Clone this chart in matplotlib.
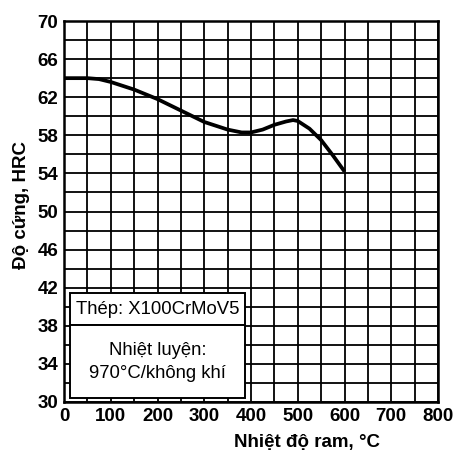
import matplotlib
matplotlib.use("Agg")
import matplotlib.pyplot as plt
from matplotlib.patches import Rectangle
import numpy as np

# tempering temperature (C) vs hardness (HRC)
temp = [0, 50, 75, 100, 150, 200, 250, 300, 350, 380, 400, 425, 450, 475, 490, 500, 525, 550, 575, 600]
hrc = [64.0, 64.0, 63.9, 63.6, 62.8, 61.8, 60.6, 59.4, 58.6, 58.3, 58.3, 58.6, 59.1, 59.45, 59.6, 59.5, 58.7, 57.5, 55.9, 54.2]

x_ticks = list(range(0, 801, 100))
y_ticks = list(range(30, 71, 4))

steel = "Thép: X100CrMoV5"
treatment = "Nhiệt luyện:\n970°C/không khí"

plt.rcParams['font.family'] = ['Liberation Sans', 'DejaVu Sans']

fig = plt.figure(figsize=(4.58, 4.55), dpi=100)
ax = fig.add_axes([64 / 458, 1 - 402 / 455, 374 / 458, 381 / 455])

ax.set_xlim(0, 800)
ax.set_ylim(30, 70)
ax.set_xticks(x_ticks)
ax.set_yticks(y_ticks)
ax.set_xticks(np.arange(0, 801, 50), minor=True)
ax.set_yticks(np.arange(30, 71, 2), minor=True)
ax.set_axisbelow(True)
ax.grid(which="both", color="black", linewidth=1.3)
ax.tick_params(which="both", length=0)
ax.tick_params(axis="both", labelsize=13.5, pad=4)
for lab in ax.get_xticklabels() + ax.get_yticklabels():
    lab.set_fontweight("bold")
for sp in ax.spines.values():
    sp.set_linewidth(1.8)

ax.plot(temp, hrc, color="black", linewidth=2.7, solid_capstyle="butt", zorder=3)

# info box in the lower left corner
ax.add_patch(Rectangle((13, 38.1), 374, 3.3, facecolor="white", edgecolor="black", linewidth=1.4, zorder=2))
ax.add_patch(Rectangle((13, 30.4), 374, 7.7, facecolor="white", edgecolor="black", linewidth=1.4, zorder=2))
ax.text(200, 39.75, steel, ha="center", va="center", fontsize=13.3, zorder=4)
ax.text(200, 34.2, treatment, ha="center", va="center", fontsize=13.3, linespacing=1.4, zorder=4)

ax.set_ylabel("Độ cứng, HRC", fontsize=13.5, fontweight="bold")
ax.yaxis.set_label_coords(-0.092, 0.517)
ax.set_xlabel("Nhiệt độ ram, °C", fontsize=13.5, fontweight="bold")
ax.xaxis.set_label_coords(0.65, -0.085)

fig.savefig("out.png", dpi=100)
